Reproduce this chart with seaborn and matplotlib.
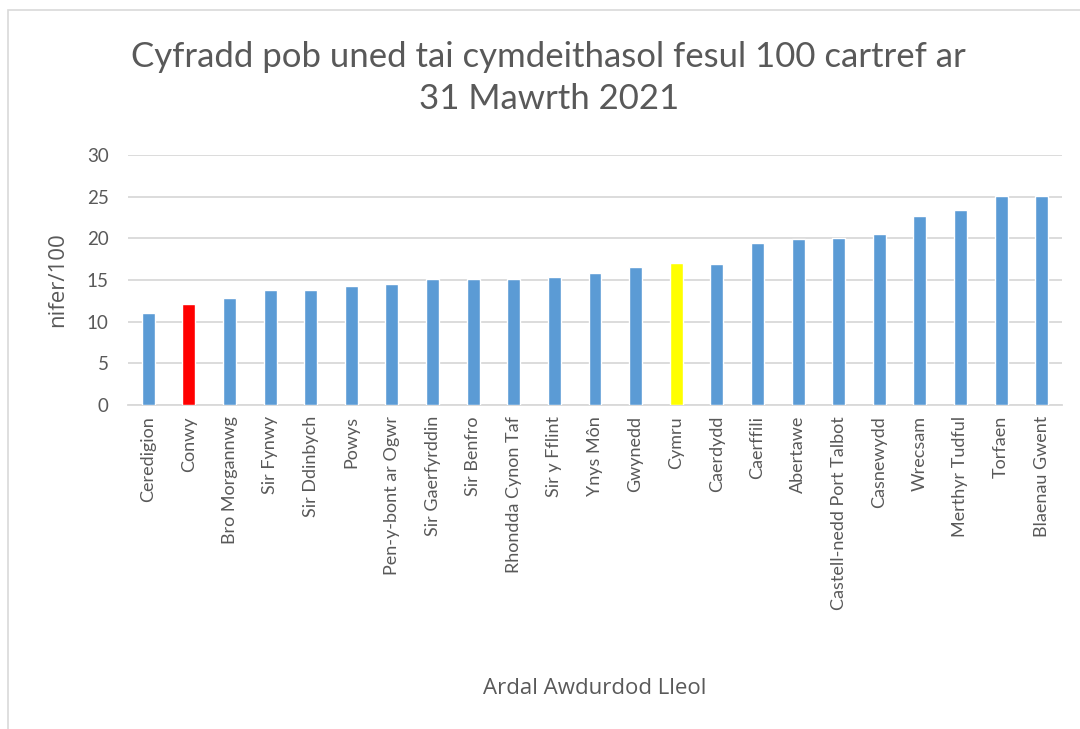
import matplotlib
matplotlib.use("Agg")
import matplotlib.pyplot as plt
import seaborn as sns
import pandas as pd

# Data
areas = ["Ceredigion", "Conwy", "Bro Morgannwg", "Sir Fynwy", "Sir Ddinbych", "Powys",
         "Pen-y-bont ar Ogwr", "Sir Gaerfyrddin", "Sir Benfro", "Rhondda Cynon Taf",
         "Sir y Fflint", "Ynys Môn", "Gwynedd", "Cymru", "Caerdydd", "Caerffili",
         "Abertawe", "Castell-nedd Port Talbot", "Casnewydd", "Wrecsam",
         "Merthyr Tudful", "Torfaen", "Blaenau Gwent"]
rates = [11.0, 12.1, 12.8, 13.8, 13.8, 14.3, 14.5, 15.1, 15.1, 15.1, 15.4, 15.8,
         16.6, 17.0, 16.9, 19.4, 19.9, 20.0, 20.5, 22.7, 23.4, 25.1, 25.1]
yticks = [0, 5, 10, 15, 20, 25, 30]

blue = "#5b9bd5"
bar_colours = {a: blue for a in areas}
bar_colours["Conwy"] = "#ff0000"
bar_colours["Cymru"] = "#ffff00"

dataf = pd.DataFrame({"area": areas, "rate": rates})

sns.set_style("white")
plt.rcParams["font.family"] = ["Lato", "DejaVu Sans"]
text_grey = "#595959"

fig = plt.figure(figsize=(10.8, 7.29), dpi=100)
ax = fig.add_axes([128 / 1080, 1 - 405 / 729, 934 / 1080, 250 / 729])

sns.barplot(data=dataf, x="area", y="rate", hue="area", palette=bar_colours,
            width=0.32, saturation=1, legend=False, ax=ax, zorder=3)

ax.set_ylim(0, 30)
ax.set_yticks(yticks)
ax.set_xlim(-0.5, len(areas) - 0.5)
ax.yaxis.grid(True, color="#d9d9d9", linewidth=1.3, zorder=0)
ax.xaxis.grid(False)
for side in ["top", "right", "left"]:
    ax.spines[side].set_visible(False)
ax.spines["bottom"].set_color("#d9d9d9")
ax.spines["bottom"].set_linewidth(1.3)

ax.tick_params(axis="x", labelrotation=90, labelsize=13, colors=text_grey, length=0, pad=8)
ax.tick_params(axis="y", labelsize=13.5, colors=text_grey, length=0, pad=14)

ax.set_xlabel("Ardal Awdurdod Lleol", fontsize=16, color=text_grey, family="Open Sans")
ax.xaxis.label.set_va("center")
ax.xaxis.set_label_coords(0.5, -1.135)
ax.set_ylabel("nifer/100", fontsize=16, color=text_grey, family="Open Sans")
ax.yaxis.label.set_va("center")
ax.yaxis.set_label_coords(-0.075, 0.5)

fig.text(0.508, 0.893, "Cyfradd pob uned tai cymdeithasol fesul 100 cartref ar\n31 Mawrth 2021",
         ha="center", va="center", fontsize=25, color=text_grey,
         linespacing=1.4)

# light frame around the chart area like the original
frame = plt.Rectangle((8 / 1080, -0.1), 1.2, 1.1 - 10 / 729, transform=fig.transFigure,
                      fill=False, edgecolor="#d9d9d9", linewidth=1.2)
fig.add_artist(frame)

plt.savefig("out.png", dpi=100)
plt.close()
